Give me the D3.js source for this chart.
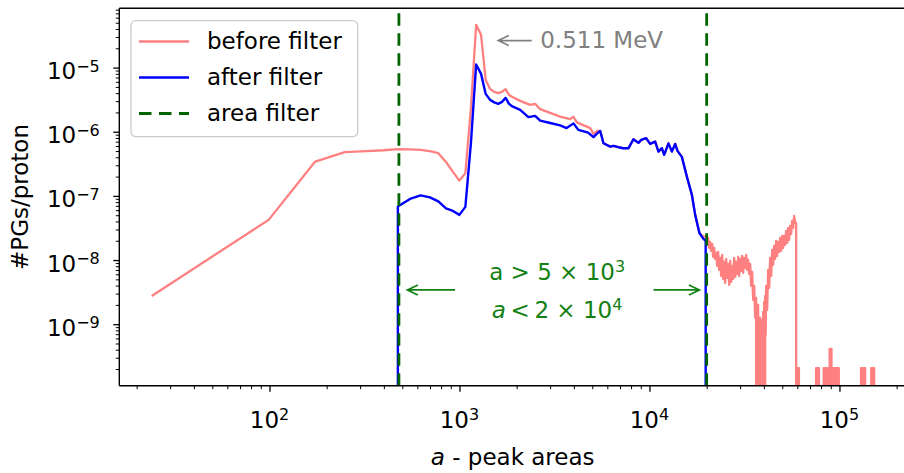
<!DOCTYPE html>
<html>
<head>
<meta charset="utf-8">
<script src="https://cdn.jsdelivr.net/npm/d3@7"></script>
<style>
  body { margin: 0; background: #fff; }
  svg { display: block; }
  text { font-family: "DejaVu Sans", sans-serif; }
</style>
</head>
<body>
<svg id="chart" width="904" height="473"></svg>
<script>
// Peak-area spectrum: [peak area a, prompt gammas per proton]; 0 = empty bin
const beforeFilter = [
  [24, 2.76e-9], [99, 4.23e-8], [174, 3.43e-7], [249, 4.80e-7], [324, 5.00e-7],
  [399, 5.15e-7], [474, 5.35e-7], [549, 5.30e-7], [624, 5.20e-7], [699, 5.00e-7],
  [774, 4.63e-7], [849, 3.39e-7], [924, 2.37e-7], [999, 1.73e-7], [1074, 2.26e-7],
  [1149, 2.36e-6], [1224, 4.64e-5], [1299, 3.24e-5], [1374, 6.43e-6], [1449, 4.66e-6],
  [1524, 4.18e-6], [1599, 3.99e-6], [1674, 4.18e-6], [1749, 4.61e-6], [1824, 3.75e-6],
  [1899, 3.49e-6], [2087, 3.03e-6], [2355, 2.62e-6], [2502, 2.72e-6], [2659, 2.25e-6],
  [3002, 1.97e-6], [3388, 1.72e-6], [3825, 1.57e-6], [3981, 1.71e-6], [4149, 1.40e-6],
  [4682, 1.20e-6], [4874, 1.14e-6], [5073, 9.25e-7], [5306, 1.03e-6], [5503, 1.03e-6],
  [5727, 6.63e-7], [6212, 5.87e-7], [6465, 6.02e-7], [6867, 5.74e-7], [7271, 5.54e-7],
  [7755, 5.54e-7], [8236, 7.65e-7], [8753, 6.70e-7], [9044, 7.46e-7], [9608, 7.93e-7],
  [10085, 6.47e-7], [10715, 7.02e-7], [11153, 4.91e-7], [11622, 5.54e-7], [11950, 4.36e-7],
  [12589, 6.58e-7], [13121, 4.91e-7], [13656, 6.47e-7], [14042, 5.03e-7], [14811, 4.06e-7],
  [15733, 2.00e-7], [16721, 1.04e-7], [17400, 5.06e-8], [18336, 2.62e-8], [19243, 2.32e-8],
  [19763, 2.32e-8], [19880, 2.38e-8]
];

// High-area tail of the unfiltered spectrum (sparse, fluctuating bins)
const beforeTail = [
  [20122, 1.85e-8], [20368, 2.22e-8], [20616, 1.55e-8], [20867, 1.92e-8], [21122, 1.39e-8],
  [21379, 1.79e-8], [21640, 1.12e-8], [21904, 1.55e-8], [22171, 1.04e-8], [22441, 1.29e-8],
  [22715, 8.11e-9], [22992, 1.34e-8], [23272, 7.03e-9], [23556, 1.08e-8], [23843, 5.66e-9],
  [24134, 1.20e-8], [24428, 5.09e-9], [24726, 9.36e-9], [25027, 4.41e-9], [25332, 1.04e-8],
  [25641, 5.27e-9], [25954, 8.71e-9], [26270, 4.10e-9], [26590, 9.70e-9], [26915, 4.57e-9],
  [27243, 8.11e-9], [27575, 5.09e-9], [27911, 1.08e-8], [28251, 5.46e-9], [28596, 9.36e-9],
  [28944, 6.09e-9], [29297, 1.12e-8], [29654, 5.66e-9], [30016, 1.04e-8], [30382, 6.78e-9],
  [30752, 1.16e-8], [31127, 6.31e-9], [31507, 1.08e-8], [31891, 7.55e-9], [32280, 1.20e-8],
  [32673, 7.03e-9], [33072, 1.01e-8], [33475, 6.09e-9], [33883, 8.71e-9], [34296, 3.96e-9],
  [34714, 6.54e-9], [35137, 2.39e-9], [35566, 3.96e-9], [35999, 1.26e-9], [36438, 2.57e-9],
  [36660, 0], [36883, 1.56e-9], [37107, 0], [37332, 2.00e-9], [37559, 0],
  [37787, 1.09e-9], [38017, 0], [38248, 1.26e-9], [38480, 0], [38714, 9.44e-10],
  [38949, 0], [39186, 1.17e-9], [39424, 0], [39664, 1.56e-9], [39905, 0],
  [40148, 2.23e-9], [40392, 0], [40637, 2.76e-9], [40884, 6.81e-10], [41133, 3.96e-9],
  [41634, 1.67e-9], [42142, 7.03e-9], [42656, 3.68e-9], [43176, 1.08e-8], [43702, 5.66e-9],
  [44235, 1.44e-8], [44774, 8.41e-9], [45320, 1.66e-8], [45873, 1.04e-8], [46432, 1.99e-8],
  [46998, 1.16e-8], [47571, 1.92e-8], [48151, 1.34e-8], [48738, 2.22e-8], [49332, 1.39e-8],
  [49934, 2.38e-8], [50543, 1.55e-8], [51159, 2.38e-8], [51782, 1.72e-8], [52414, 2.85e-8],
  [53053, 1.85e-8], [53700, 3.17e-8], [54354, 2.06e-8], [55017, 3.41e-8], [55688, 2.56e-8],
  [56367, 4.08e-8], [57054, 3.17e-8], [57750, 4.88e-8], [58454, 3.79e-8], [59166, 3.75e-8],
  [59300, 0],
  [59530, 2.06e-10], [59900, 0], [60350, 2.06e-10], [60800, 0], [61200, 2.06e-10], [61500, 0],
  [75300, 2.06e-10], [75800, 0], [76300, 2.06e-10], [76800, 0], [77300, 2.06e-10], [77700, 0],
  [78000, 2.06e-10], [78400, 0],
  [82600, 2.06e-10], [83100, 0], [83600, 2.06e-10], [84100, 0], [84600, 2.06e-10], [85000, 0],
  [86000, 2.06e-10], [86500, 0], [87000, 2.06e-10], [87400, 0],
  [88800, 4.12e-10], [89300, 0], [89800, 4.12e-10], [90300, 0], [90800, 4.12e-10], [91300, 0],
  [91700, 2.06e-10], [92200, 0],
  [93200, 2.06e-10], [93700, 0], [94200, 2.06e-10], [94700, 0], [95200, 2.06e-10], [95700, 0],
  [96200, 2.06e-10], [96700, 0], [97200, 2.06e-10], [97700, 0], [98200, 2.06e-10], [98700, 0],
  [99200, 2.06e-10], [99700, 0],
  [129800, 2.06e-10], [130700, 0], [131600, 2.06e-10], [132500, 0], [133400, 2.06e-10], [134300, 0],
  [135200, 2.06e-10], [136100, 0], [136500, 2.06e-10], [137000, 0],
  [147000, 2.06e-10], [148000, 0], [149000, 2.06e-10], [150000, 0], [151000, 2.06e-10], [152000, 0],
  [152300, 2.06e-10], [152800, 0]
];

// Spectrum after the area cut
const afterFilter = [
  [399, 0], [474, 6.81e-8], [549, 8.98e-8], [624, 1.02e-7], [699, 9.48e-8],
  [774, 8.20e-8], [849, 6.38e-8], [924, 5.83e-8], [999, 5.06e-8], [1074, 6.74e-8],
  [1149, 6.70e-7], [1224, 1.12e-5], [1299, 7.98e-6], [1374, 3.89e-6], [1449, 3.14e-6],
  [1524, 2.87e-6], [1599, 2.72e-6], [1674, 2.92e-6], [1749, 3.37e-6], [1824, 2.72e-6],
  [1899, 2.48e-6], [2087, 2.19e-6], [2305, 1.69e-6], [2502, 1.77e-6], [2659, 1.49e-6],
  [3002, 1.37e-6], [3388, 1.26e-6], [3664, 1.14e-6], [3981, 1.35e-6], [4225, 1.07e-6],
  [4757, 9.70e-7], [5073, 8.22e-7], [5306, 9.42e-7], [5503, 1.03e-6], [5727, 6.63e-7],
  [6212, 5.87e-7], [6465, 6.02e-7], [6867, 5.74e-7], [7271, 5.54e-7], [7755, 5.54e-7],
  [8236, 7.65e-7], [8753, 6.70e-7], [9044, 7.46e-7], [9608, 7.93e-7], [10085, 6.47e-7],
  [10715, 7.02e-7], [11153, 4.91e-7], [11622, 5.54e-7], [11950, 4.36e-7], [12589, 6.58e-7],
  [13121, 4.91e-7], [13656, 6.47e-7], [14042, 5.03e-7], [14811, 4.06e-7], [15733, 2.00e-7],
  [16721, 1.04e-7], [17400, 5.06e-8], [18336, 2.62e-8], [19243, 2.14e-8], [19763, 1.99e-8],
  [19838, 0]
];

const areaCut = [480, 20000];
const xDomain = [16.2, 2.24e5];
const yDomain = [1.1e-10, 8.4e-5];
const xMajorExponents = [2, 3, 4, 5];
const yMajorExponents = [-9, -8, -7, -6, -5];
const legendLabels = ["before filter", "after filter", "area filter"];

// Annotations, anchored in data coordinates
const peakNote = { label: "0.511 MeV", tip: 1600, tail: 2400, textAt: 2660, level: 2.64e-5 };
const cutArrows = [[948, 532], [10500, 18320]];
const cutArrowLevel = 3.42e-9;
const cutTextAt = 3266;
const cutTextLevels = [4.9e-9, 1.25e-9];

const colors = { before: "#ff8080", after: "#0000ff", cut: "#006400", note: "#808080", range: "#138013" };

const svg = d3.select("#chart");
const frame = { left: 119.3, right: 906, top: 8.3, bottom: 385.7 };
const FS = 23, SUP = 16;

const x = d3.scaleLog().domain(xDomain).range([frame.left, frame.right]);
const y = d3.scaleLog().domain(yDomain).range([frame.bottom, frame.top]);

svg.append("rect").attr("width", 904).attr("height", 473).attr("fill", "#fff");

svg.append("defs").append("clipPath").attr("id", "plot-clip")
  .append("rect")
  .attr("x", frame.left).attr("y", frame.top)
  .attr("width", frame.right - frame.left).attr("height", frame.bottom - frame.top);

const plot = svg.append("g").attr("clip-path", "url(#plot-clip)");

// empty bins sit far below the axis, so the curve drops straight down
const yPix = v => (v > 0 ? y(v) : 1e6);
const line = d3.line().x(d => x(d[0])).y(d => yPix(d[1]));

plot.append("path")
  .attr("d", line(beforeFilter.concat(beforeTail)))
  .attr("fill", "none").attr("stroke", colors.before)
  .attr("stroke-width", 2.3).attr("stroke-linejoin", "round");

plot.append("path")
  .attr("d", line(afterFilter))
  .attr("fill", "none").attr("stroke", colors.after)
  .attr("stroke-width", 2.4).attr("stroke-linejoin", "round");

// area cut boundaries
plot.selectAll("line.cut").data(areaCut).join("line")
  .attr("class", "cut")
  .attr("x1", d => x(d)).attr("x2", d => x(d))
  .attr("y1", frame.bottom).attr("y2", frame.top)
  .attr("stroke", colors.cut).attr("stroke-width", 2.8)
  .attr("stroke-dasharray", "12.5,7.5");

// arrows
function arrow(g, from, to, yy, color) {
  const dir = Math.sign(to - from), hl = 10.5, hw = 5;
  g.append("path")
    .attr("d", `M${from},${yy}H${to}M${to - dir * hl},${yy - hw}L${to},${yy}L${to - dir * hl},${yy + hw}`)
    .attr("fill", "none").attr("stroke", color).attr("stroke-width", 1.7);
}

const notes = svg.append("g");
arrow(notes, x(peakNote.tail), x(peakNote.tip), y(peakNote.level), colors.note);
notes.append("text")
  .attr("x", x(peakNote.textAt)).attr("y", y(peakNote.level) + 7.8)
  .attr("font-size", FS).attr("fill", colors.note)
  .text(peakNote.label);

cutArrows.forEach(([from, to]) => arrow(notes, x(from), x(to), y(cutArrowLevel), colors.range));

const t1 = notes.append("text")
  .attr("x", x(cutTextAt)).attr("y", y(cutTextLevels[0]))
  .attr("text-anchor", "middle").attr("font-size", FS).attr("fill", colors.range);
t1.append("tspan").text("a > 5 \u00d7 10");
t1.append("tspan").attr("dy", -8.3).attr("font-size", SUP).text("3");

const t2 = notes.append("text")
  .attr("x", x(cutTextAt)).attr("y", y(cutTextLevels[1]))
  .attr("text-anchor", "middle").attr("font-size", FS).attr("fill", colors.range);
t2.append("tspan").attr("font-style", "italic").text("a");
t2.append("tspan").text("\u2009<\u20092 \u00d7 10");
t2.append("tspan").attr("dy", -8.3).attr("font-size", SUP).text("4");

// axes
const axes = svg.append("g").attr("stroke", "#000");
const spine = 1.4;
axes.append("line").attr("x1", frame.left).attr("x2", frame.left)
  .attr("y1", frame.top).attr("y2", frame.bottom).attr("stroke-width", spine);
axes.append("line").attr("x1", frame.left).attr("x2", frame.right)
  .attr("y1", frame.bottom).attr("y2", frame.bottom).attr("stroke-width", spine);
axes.append("line").attr("x1", frame.left).attr("x2", frame.right)
  .attr("y1", frame.top).attr("y2", frame.top).attr("stroke-width", spine);
axes.append("line").attr("x1", frame.right).attr("x2", frame.right)
  .attr("y1", frame.top).attr("y2", frame.bottom).attr("stroke-width", spine);

function minorTicks(domain) {
  const out = [];
  const lo = Math.floor(Math.log10(domain[0])), hi = Math.ceil(Math.log10(domain[1]));
  for (let e = lo; e <= hi; e++) {
    for (let k = 2; k <= 9; k++) {
      const v = k * Math.pow(10, e);
      if (v >= domain[0] && v <= domain[1]) out.push(v);
    }
  }
  return out;
}

const xMajor = xMajorExponents.map(e => Math.pow(10, e));
const yMajor = yMajorExponents.map(e => Math.pow(10, e));

const xAxisMajor = d3.axisBottom(x).tickValues(xMajor).tickSize(6).tickFormat("");
const xAxisMinor = d3.axisBottom(x).tickValues(minorTicks(xDomain)).tickSize(3.5).tickFormat("");
const yAxisMajor = d3.axisLeft(y).tickValues(yMajor).tickSize(6).tickFormat("");
const yAxisMinor = d3.axisLeft(y).tickValues(minorTicks(yDomain)).tickSize(3.5).tickFormat("");

function styleAxis(g, w) {
  g.select(".domain").remove();
  g.selectAll(".tick line").attr("stroke", "#000").attr("stroke-width", w);
}
svg.append("g").attr("transform", `translate(0,${frame.bottom})`).call(xAxisMajor).call(styleAxis, 1.3);
svg.append("g").attr("transform", `translate(0,${frame.bottom})`).call(xAxisMinor).call(styleAxis, 1.0);
svg.append("g").attr("transform", `translate(${frame.left},0)`).call(yAxisMajor).call(styleAxis, 1.3);
svg.append("g").attr("transform", `translate(${frame.left},0)`).call(yAxisMinor).call(styleAxis, 1.0);

// tick labels with superscript exponents
const labels = svg.append("g").attr("font-size", FS).attr("fill", "#000");
xMajorExponents.forEach(e => {
  const t = labels.append("text")
    .attr("x", x(Math.pow(10, e))).attr("y", frame.bottom + 42.6)
    .attr("text-anchor", "middle");
  t.append("tspan").text("10");
  t.append("tspan").attr("dy", -8.3).attr("font-size", SUP).text(String(e));
});
yMajorExponents.forEach(e => {
  const t = labels.append("text")
    .attr("x", frame.left - 19.5).attr("y", y(Math.pow(10, e)) + 11.6)
    .attr("text-anchor", "end");
  t.append("tspan").text("10");
  t.append("tspan").attr("dy", -7.6).attr("font-size", SUP).text("\u2212" + Math.abs(e));
});

// axis titles
const xt = labels.append("text")
  .attr("x", (frame.left + frame.right) / 2).attr("y", 465)
  .attr("text-anchor", "middle");
xt.append("tspan").attr("font-style", "italic").text("a");
xt.append("tspan").text(" - peak areas");

labels.append("text")
  .attr("transform", `translate(28.3,${(frame.top + frame.bottom) / 2}) rotate(-90)`)
  .attr("text-anchor", "middle")
  .text("#PGs/proton");

// legend
const legend = svg.append("g");
legend.append("rect")
  .attr("x", 131).attr("y", 20.7).attr("width", 226.7).attr("height", 116).attr("rx", 5)
  .attr("fill", "#fff").attr("fill-opacity", 0.8)
  .attr("stroke", "#cccccc").attr("stroke-width", 1.3);
const legendStyles = [
  { color: colors.before, width: 2.3, dash: null },
  { color: colors.after, width: 2.4, dash: null },
  { color: colors.cut, width: 2.8, dash: "12.5,7.5" }
];
legendLabels.forEach((label, i) => {
  const ly = 41.5 + i * 36;
  const s = legendStyles[i];
  legend.append("line")
    .attr("x1", 139).attr("x2", 189).attr("y1", ly).attr("y2", ly)
    .attr("stroke", s.color).attr("stroke-width", s.width)
    .attr("stroke-dasharray", s.dash);
  legend.append("text")
    .attr("x", 207).attr("y", ly + 7.5)
    .attr("font-size", FS).attr("fill", "#000")
    .text(label);
});
</script>
</body>
</html>
